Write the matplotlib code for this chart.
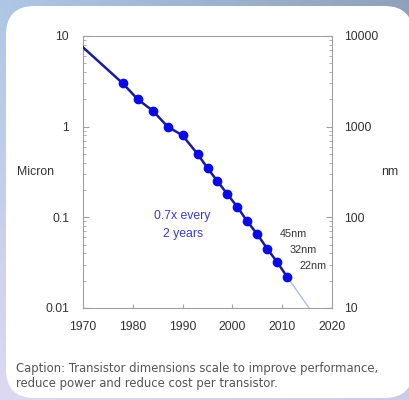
import numpy as np
import matplotlib
matplotlib.use("Agg")
import matplotlib.pyplot as plt
from matplotlib.patches import FancyBboxPatch
from matplotlib.ticker import LogLocator, NullFormatter, FixedLocator

# node sizes in micron, by year
years = [1978, 1981, 1984, 1987, 1990, 1993, 1995, 1997, 1999, 2001, 2003, 2005, 2007, 2009, 2011]
micron = [3.0, 2.0, 1.5, 1.0, 0.8, 0.5, 0.35, 0.25, 0.18, 0.13, 0.09, 0.065, 0.045, 0.032, 0.022]
trend_start = (1970, 7.5)
trend_end = (2015.4, 0.01)
node_labels = ["45nm", "32nm", "22nm"]
node_label_pos = [(2012.2, 0.066), (2014.2, 0.044), (2016.2, 0.029)]
caption = ("Caption: Transistor dimensions scale to improve performance,\n"
           "reduce power and reduce cost per transistor.")

fnt = ["Liberation Sans", "DejaVu Sans"]
txt = "#333333"
fs = 8.8

fig = plt.figure(figsize=(4.09, 4.0), dpi=100)

# background gradient + white rounded panel
bg = fig.add_axes([0, 0, 1, 1], zorder=-10)
gx, gy = np.meshgrid(np.linspace(0, 1, 200), np.linspace(0, 1, 200))
c_tl = np.array([0.68, 0.78, 0.90])
c_tr = np.array([0.56, 0.63, 0.73])
c_bl = np.array([0.87, 0.85, 0.95])
c_br = np.array([0.80, 0.80, 0.90])
img = (c_tl * ((1 - gx) * (1 - gy))[..., None] + c_tr * (gx * (1 - gy))[..., None]
       + c_bl * ((1 - gx) * gy)[..., None] + c_br * (gx * gy)[..., None])
bg.imshow(img, extent=[0, 1, 0, 1], aspect="auto", origin="upper")
bg.add_patch(FancyBboxPatch((6 / 409, 2 / 400), 1 - 2 / 409, 1 - 8 / 400,
                            boxstyle="round,pad=0,rounding_size=0.07",
                            fc="white", ec="none", mutation_aspect=409 / 400))
bg.set_xlim(0, 1)
bg.set_ylim(0, 1)
bg.axis("off")

ax = fig.add_axes([83 / 409, 1 - 308 / 400, 249 / 409, 272 / 400])
ax.set_yscale("log")
ax.set_xlim(1970, 2020)
ax.set_ylim(0.01, 10)

ax.plot([years[-1], trend_end[0]], [micron[-1], trend_end[1]], color="#b4bce8", lw=1, zorder=2)
ax.plot([trend_start[0]] + years, [trend_start[1]] + micron, color="#1a1a9c", lw=1.8, zorder=3)
ax.plot(years, micron, "o", color="#0a0ae8", ms=6, zorder=4)

ax.text(1990, 0.082, "0.7x every\n2 years", color="#3a3ad0", fontsize=fs,
        family=fnt, ha="center", va="center", linespacing=1.6)
for lab, (x, y) in zip(node_labels, node_label_pos):
    ax.text(x, y, lab, color=txt, fontsize=7.8, family=fnt, ha="center", va="center")

for s in ax.spines.values():
    s.set_color("#a0a0a0")
    s.set_linewidth(0.8)
ax.xaxis.set_major_locator(FixedLocator([1970, 1980, 1990, 2000, 2010, 2020]))
ax.tick_params(axis="x", direction="in", length=3, color="#a0a0a0", labelsize=fs,
               labelcolor=txt, pad=9)
ax.tick_params(axis="y", which="both", direction="in", color="#a0a0a0", labelsize=fs,
               labelcolor=txt, pad=10)
ax.tick_params(axis="y", which="major", length=4)
ax.tick_params(axis="y", which="minor", length=2)
ax.set_yticks([0.01, 0.1, 1, 10])
ax.set_yticklabels(["0.01", "0.1", "1", "10"])
ax.yaxis.set_minor_locator(LogLocator(subs=np.arange(2, 10)))
ax.yaxis.set_minor_formatter(NullFormatter())
for t in ax.get_xticklabels() + ax.get_yticklabels():
    t.set_family(fnt)

ax2 = ax.twinx()
ax2.set_yscale("log")
ax2.set_ylim(10, 10000)
ax2.set_yticks([10, 100, 1000, 10000])
ax2.set_yticklabels(["10", "100", "1000", "10000"])
ax2.yaxis.set_minor_locator(LogLocator(subs=np.arange(2, 10)))
ax2.yaxis.set_minor_formatter(NullFormatter())
ax2.tick_params(axis="y", which="both", direction="in", color="#a0a0a0", labelsize=fs,
                labelcolor=txt, pad=9)
ax2.tick_params(axis="y", which="major", length=4)
ax2.tick_params(axis="y", which="minor", length=2)
for s in ax2.spines.values():
    s.set_visible(False)
for t in ax2.get_yticklabels():
    t.set_family(fnt)

fig.text(35 / 409, 1 - 172 / 400, "Micron", color=txt, fontsize=fs, family=fnt,
         ha="center", va="center")
fig.text(390 / 409, 1 - 172 / 400, "nm", color=txt, fontsize=fs, family=fnt,
         ha="center", va="center")
fig.text(16 / 409, 1 - 376 / 400, caption, color="#555555", fontsize=8.4,
         family=["DejaVu Sans"], ha="left", va="center", linespacing=1.15)

fig.savefig("out.png", dpi=100)
